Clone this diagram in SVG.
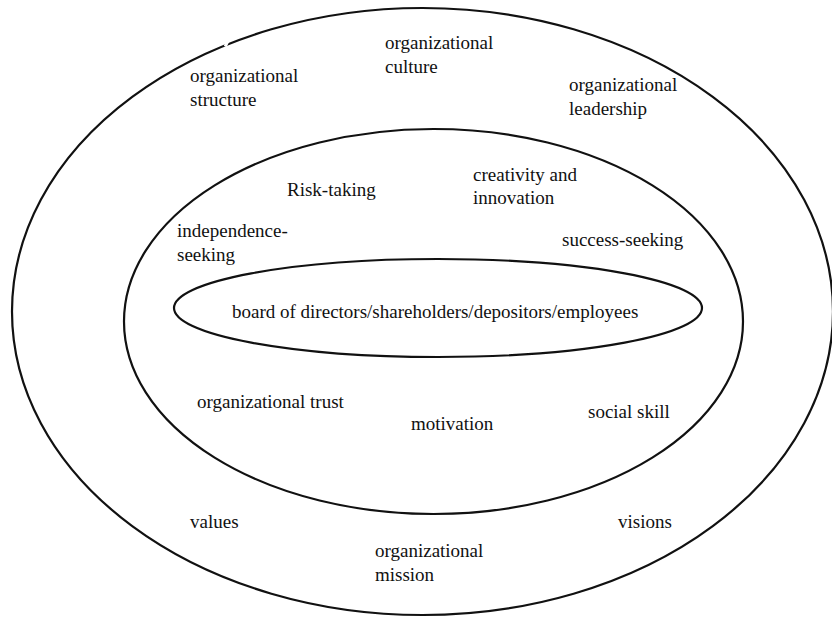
<svg xmlns="http://www.w3.org/2000/svg" width="832" height="618" viewBox="0 0 832 618">
  <style>
    .ring { fill: none; stroke: #111; stroke-width: 2.2; }
    .lbl { font-family: "Liberation Serif", "Times New Roman", serif; font-size: 19px; fill: #111; }
  </style>
  <rect x="0" y="0" width="832" height="618" fill="#fff"/>

  <!-- outer ring: organizational context -->
  <g id="outer-ring">
    <ellipse class="ring" cx="422.5" cy="311.5" rx="410.5" ry="303.5"/>
    <!-- small break in the outer stroke -->
    <rect x="225.5" y="38" width="3" height="9" fill="#fff" transform="rotate(28 227 43)"/>
    <text class="lbl" x="385" y="49">organizational</text>
    <text class="lbl" x="385" y="73">culture</text>
    <text class="lbl" x="190" y="82">organizational</text>
    <text class="lbl" x="190" y="106">structure</text>
    <text class="lbl" x="569" y="91">organizational</text>
    <text class="lbl" x="569" y="115">leadership</text>
    <text class="lbl" x="190" y="528">values</text>
    <text class="lbl" x="618" y="528">visions</text>
    <text class="lbl" x="375" y="557">organizational</text>
    <text class="lbl" x="375" y="581">mission</text>
  </g>

  <!-- middle ring: individual traits -->
  <g id="middle-ring">
    <ellipse class="ring" cx="433.5" cy="321.5" rx="309.5" ry="192.5"/>
    <text class="lbl" x="287" y="196">Risk-taking</text>
    <text class="lbl" x="473" y="181">creativity and</text>
    <text class="lbl" x="473" y="204">innovation</text>
    <text class="lbl" x="177" y="237">independence-</text>
    <text class="lbl" x="177" y="261">seeking</text>
    <text class="lbl" x="562" y="246">success-seeking</text>
    <text class="lbl" x="197" y="408">organizational trust</text>
    <text class="lbl" x="411" y="430">motivation</text>
    <text class="lbl" x="588" y="418">social skill</text>
  </g>

  <!-- inner ring: stakeholders -->
  <g id="inner-ring">
    <ellipse class="ring" cx="438" cy="308" rx="264" ry="49"/>
    <text class="lbl" x="232" y="318">board of directors/shareholders/depositors/employees</text>
  </g>

  <g id="connectors"/>
</svg>
